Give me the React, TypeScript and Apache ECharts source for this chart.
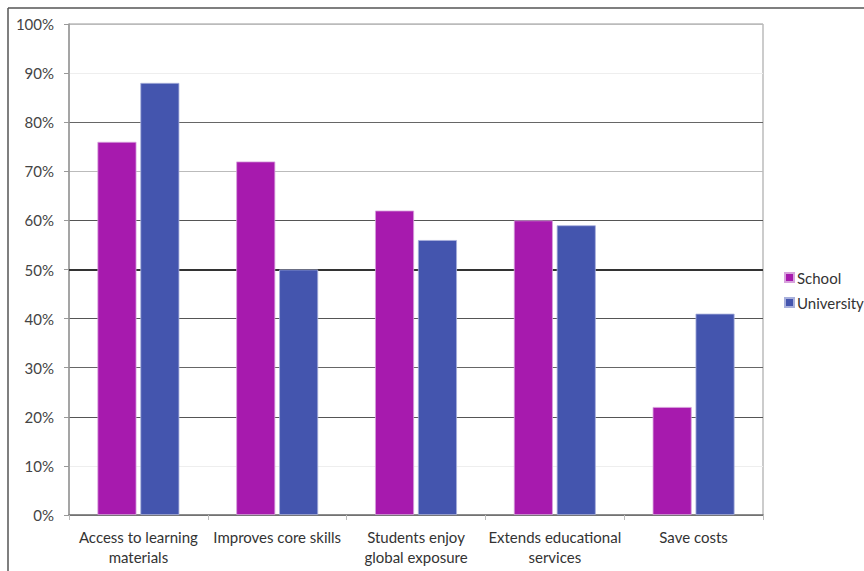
import React, { useEffect, useRef } from "react";
import * as echarts from "echarts";

const categories = [
  "Access to learning\nmaterials",
  "Improves core skills",
  "Students enjoy\nglobal exposure",
  "Extends educational\nservices",
  "Save costs",
];
const schoolValues = [76, 72, 62, 60, 22];
const universityValues = [88, 50, 56, 59, 41];
const seriesNames = ["School", "University"];

// gridline shades from 0% up to 100%
const gridShades = [
  "#666", "#eeeeee", "#555", "#666", "#555", "#444",
  "#555", "#bbb", "#666", "#eeeeee", "#bbb",
];

const FONT = "Lato, 'Liberation Sans', sans-serif";

export default function App() {
  const ref = useRef<HTMLDivElement>(null);

  useEffect(() => {
    if (!ref.current) return;
    const chart = echarts.init(ref.current, undefined, { renderer: "svg" });
    chart.setOption({
      animation: false,
      backgroundColor: "#ffffff",
      textStyle: { fontFamily: FONT },
      grid: {
        left: 69,
        right: 101,
        top: 24,
        bottom: 56,
        show: true,
        borderColor: "#999",
        borderWidth: 1,
      },
      legend: {
        orient: "vertical",
        left: 779,
        top: 265,
        itemWidth: 9,
        itemHeight: 9,
        itemGap: 10,
        icon: "rect",
        data: seriesNames,
        textStyle: { fontFamily: FONT, fontSize: 15, color: "#333", padding: [0, 0, 0, -2] },
      },
      xAxis: {
        type: "category",
        data: categories,
        axisLine: { lineStyle: { color: "#777", width: 1.5 } },
        axisTick: { show: true, length: 5, lineStyle: { color: "#bbb" }, alignWithLabel: false },
        axisLabel: {
          interval: 0,
          fontFamily: FONT,
          fontSize: 15,
          color: "#333",
          lineHeight: 20,
          margin: 12,
        },
      },
      yAxis: {
        type: "value",
        min: 0,
        max: 100,
        interval: 10,
        axisLine: { show: true, lineStyle: { color: "#999", width: 1.5 } },
        axisTick: { show: true, length: 5, lineStyle: { color: "#999" } },
        axisLabel: {
          formatter: "{value}%",
          fontFamily: FONT,
          fontSize: 15,
          color: "#444",
          margin: 15,
        },
        splitLine: { show: true, lineStyle: { color: gridShades, width: 1.2 } },
      },
      series: [
        {
          name: seriesNames[0],
          type: "bar",
          data: schoolValues,
          barWidth: 39,
          barGap: "10%",
          itemStyle: { color: "#a71aae", borderColor: "#d7a2dc", borderWidth: 0.8 },
          markLine: {
            silent: true,
            symbol: "none",
            label: { show: false },
            lineStyle: { color: "#333", width: 2, type: "solid" },
            data: [{ yAxis: 50 }],
            z: 1,
          },
        },
        {
          name: seriesNames[1],
          type: "bar",
          data: universityValues,
          barWidth: 39,
          itemStyle: { color: "#4455ae", borderColor: "#a8b0dc", borderWidth: 0.8 },
        },
      ],
      graphic: [
        {
          type: "line",
          shape: { x1: 8, y1: 8, x2: 864, y2: 8 },
          style: { stroke: "#555", lineWidth: 1.5 },
        },
        {
          type: "line",
          shape: { x1: 8, y1: 8, x2: 8, y2: 571 },
          style: { stroke: "#555", lineWidth: 1.5 },
        },
      ],
    });
    return () => chart.dispose();
  }, []);

  return (
    <div
      ref={ref}
      style={{ position: "fixed", left: 0, top: 0, width: 864, height: 571 }}
    />
  );
}
